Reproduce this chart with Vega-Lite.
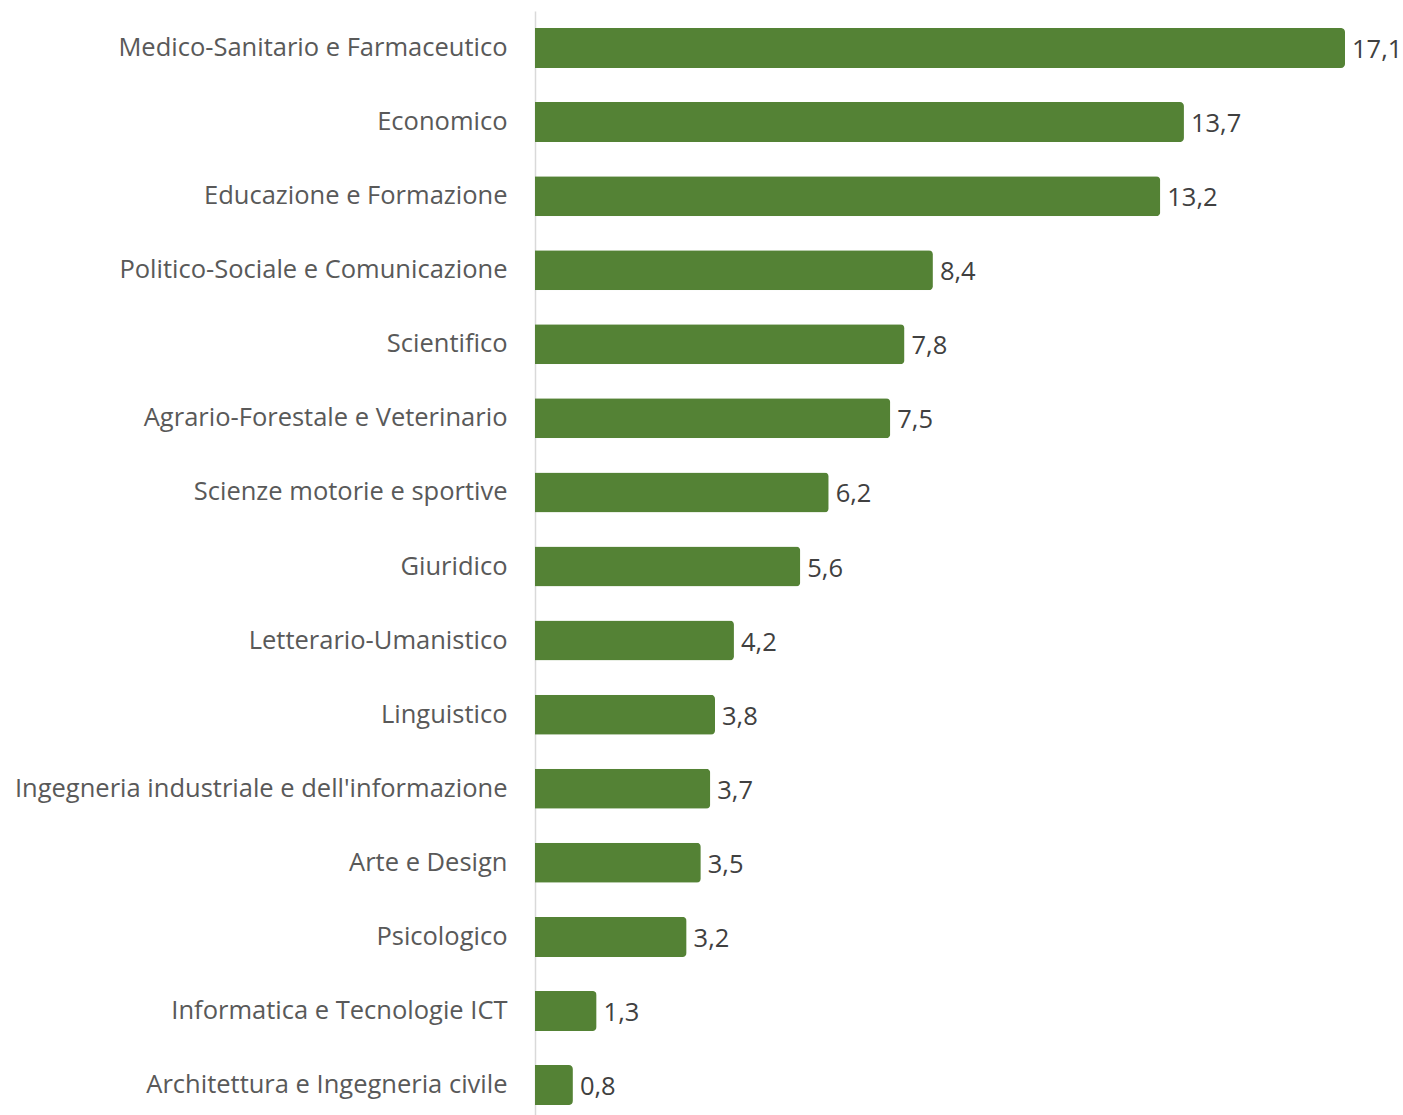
{
  "$schema": "https://vega.github.io/schema/vega-lite/v6.json",
  "width": 810,
  "height": 1104,
  "autosize": {"type": "none"},
  "padding": {"left": 535, "top": 11, "right": 58, "bottom": 0},
  "background": "white",
  "config": {
    "view": {"stroke": null},
    "locale": {"number": {"decimal": ",", "thousands": ".", "grouping": [3], "currency": ["", " €"]}}
  },
  "data": {"values": [
    {"area": "Medico-Sanitario e Farmaceutico", "value": 17.1},
    {"area": "Economico", "value": 13.7},
    {"area": "Educazione e Formazione", "value": 13.2},
    {"area": "Politico-Sociale e Comunicazione", "value": 8.4},
    {"area": "Scientifico", "value": 7.8},
    {"area": "Agrario-Forestale e Veterinario", "value": 7.5},
    {"area": "Scienze motorie e sportive", "value": 6.2},
    {"area": "Giuridico", "value": 5.6},
    {"area": "Letterario-Umanistico", "value": 4.2},
    {"area": "Linguistico", "value": 3.8},
    {"area": "Ingegneria industriale e dell'informazione", "value": 3.7},
    {"area": "Arte e Design", "value": 3.5},
    {"area": "Psicologico", "value": 3.2},
    {"area": "Informatica e Tecnologie ICT", "value": 1.3},
    {"area": "Architettura e Ingegneria civile", "value": 0.8}
  ]},
  "encoding": {
    "y": {
      "field": "area", "type": "nominal", "sort": null,
      "scale": {"paddingInner": 0.46, "paddingOuter": 0.182, "align": 0.63},
      "axis": {
        "title": null, "ticks": false, "labelPadding": 28,
        "domainColor": "#d9d9d9", "domainWidth": 1.5,
        "labelFont": "Open Sans", "labelFontSize": 25.5, "labelColor": "#595959",
        "labelLimit": 600
      }
    },
    "x": {
      "field": "value", "type": "quantitative",
      "scale": {"domain": [0, 17.1], "nice": false, "zero": true},
      "axis": null
    }
  },
  "layer": [
    {"mark": {"type": "bar", "color": "#548235", "cornerRadiusEnd": 4}},
    {
      "mark": {"type": "text", "align": "left", "baseline": "middle", "dx": 7, "dy": 2, "font": "Open Sans", "fontSize": 25.5, "color": "#404040"},
      "encoding": {"text": {"field": "value", "type": "quantitative", "format": ".1f"}}
    }
  ]
}
